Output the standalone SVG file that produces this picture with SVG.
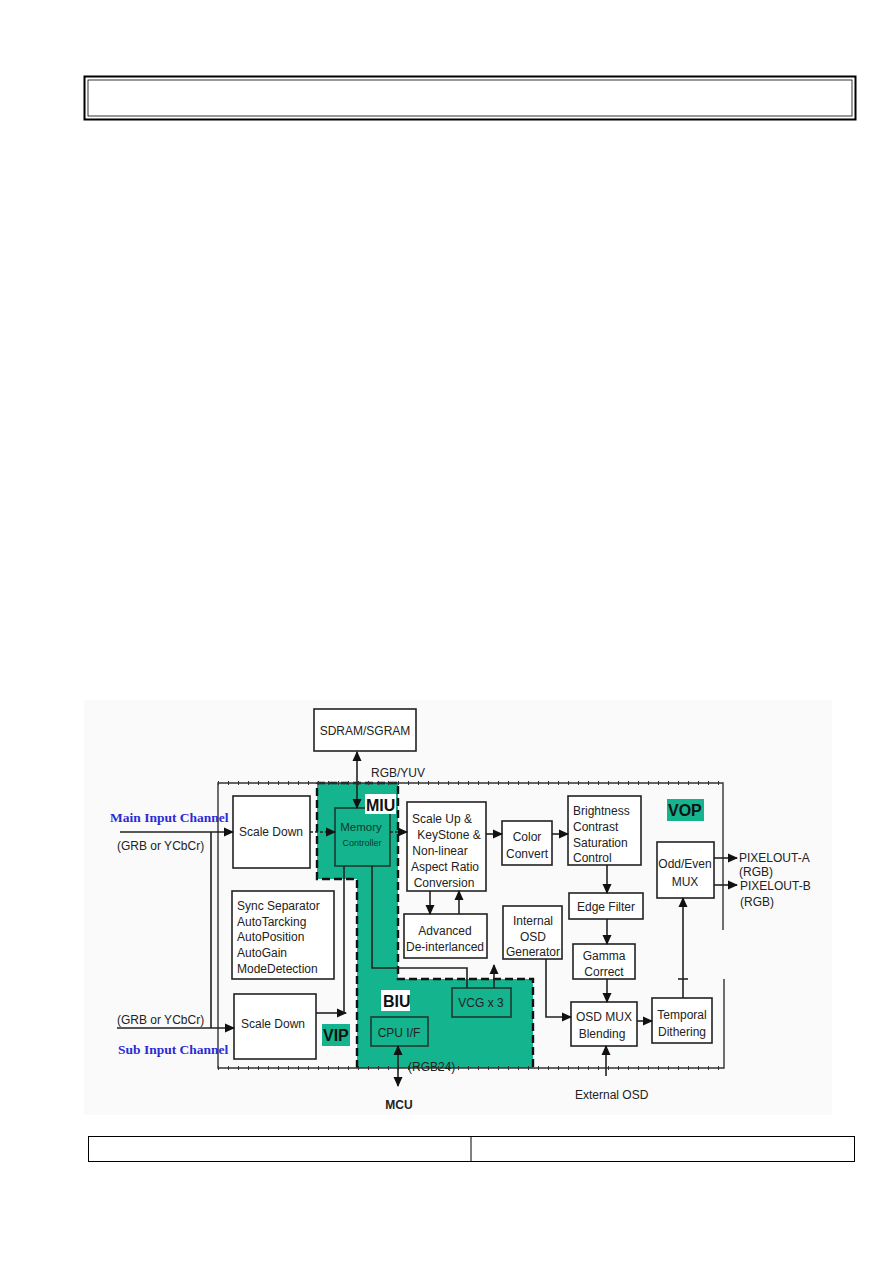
<svg xmlns="http://www.w3.org/2000/svg" width="893" height="1263" viewBox="0 0 893 1263">
<style>
.bx{fill:#fff;stroke:#222;stroke-width:1.6}
.t{font-family:"Liberation Sans",Arial,sans-serif;font-size:12px;fill:#222}
.c{text-anchor:middle}
.lbl{font-family:"Liberation Sans",Arial,sans-serif;font-size:16px;font-weight:bold;fill:#111}
.ch{font-family:"Liberation Serif","Times New Roman",serif;font-size:13.5px;font-weight:bold;fill:#2b2bd6}
.ln{fill:none;stroke:#222;stroke-width:1.6}
.dl{fill:none;stroke:#222;stroke-width:1.6;stroke-dasharray:3 2}
.grn{fill:#14b48e}
</style>
<defs>
<marker id="ah" markerWidth="10" markerHeight="10" refX="9" refY="5" orient="auto-start-reverse" markerUnits="userSpaceOnUse"><path d="M0,0.5 L10,5 L0,9.5 z" fill="#111"/></marker>
</defs>
<rect width="893" height="1263" fill="#fff"/>
<g id="frame-top">
<rect x="84.5" y="76.5" width="771" height="43" fill="none" stroke="#000" stroke-width="2"/>
<rect x="88" y="80" width="764" height="36" fill="none" stroke="#000" stroke-width="0.8"/>
</g>
<g id="frame-bottom">
<rect x="88.5" y="1136.5" width="766" height="25" fill="none" stroke="#000" stroke-width="1"/>
<line x1="471" y1="1136.5" x2="471" y2="1161.5" stroke="#000" stroke-width="1"/>
</g>
<rect x="84" y="700" width="748" height="415" fill="#fafafa"/>
<g id="regions">
<path class="grn" d="M317,783 H398 V979 H533 V1068 H357 V879 H317 Z"/>
<path d="M317,783 H398 V979 H533 V1068 M357,1068 V879 H317 V783" fill="none" stroke="#111" stroke-width="2.4" stroke-dasharray="8 4"/>
<path d="M723,930 V783 H218 V1068 H724 V979" fill="none" stroke="#333" stroke-width="1.4"/>
<path d="M218,783 H723 M218,1068 H724" fill="none" stroke="#333" stroke-width="4" stroke-dasharray="1 9"/>
</g>
<g id="sdram"><rect class="bx" x="314" y="709" width="102" height="42"/><text class="t c" x="365" y="735">SDRAM/SGRAM</text></g>
<g id="scale-down-main"><rect class="bx" x="233" y="796" width="77" height="72"/><text class="t c" x="271" y="836">Scale Down</text></g>
<g id="memory-controller"><rect x="335" y="808" width="55" height="58" fill="#14b48e" stroke="#1c3b30" stroke-width="1.6"/><text class="c" x="361" y="831" font-family="Liberation Sans,Arial,sans-serif" font-size="11.5" fill="#0b3b2a">Memory</text><text class="c" x="362" y="846" font-family="Liberation Sans,Arial,sans-serif" font-size="9" fill="#0b3b2a">Controller</text></g>
<g id="sync-separator"><rect class="bx" x="232" y="891" width="102" height="88"/>
<text class="t" x="237" y="910">Sync Separator</text><text class="t" x="237" y="926">AutoTarcking</text><text class="t" x="237" y="941">AutoPosition</text><text class="t" x="237" y="957">AutoGain</text><text class="t" x="237" y="973">ModeDetection</text></g>
<g id="scale-down-sub"><rect class="bx" x="234" y="994" width="82" height="65"/><text class="t c" x="273" y="1028">Scale Down</text></g>
<g id="scale-up"><rect class="bx" x="407" y="802" width="79" height="89"/>
<text class="t c" x="442" y="823">Scale Up &amp;</text><text class="t c" x="449" y="839">KeyStone &amp;</text><text class="t c" x="440" y="855">Non-linear</text><text class="t c" x="445" y="871">Aspect Ratio</text><text class="t c" x="444" y="887">Conversion</text></g>
<g id="advanced-deinterlaced"><rect class="bx" x="404" y="914" width="83" height="44"/><text class="t c" x="445" y="935">Advanced</text><text class="t c" x="445" y="951">De-interlanced</text></g>
<g id="color-convert"><rect class="bx" x="502" y="821" width="50" height="44"/><text class="t c" x="527" y="841">Color</text><text class="t c" x="527" y="858">Convert</text></g>
<g id="brightness"><rect class="bx" x="568" y="796" width="73" height="69"/>
<text class="t" x="573" y="815">Brightness</text><text class="t" x="573" y="831">Contrast</text><text class="t" x="573" y="847">Saturation</text><text class="t" x="573" y="862">Control</text></g>
<g id="edge-filter"><rect class="bx" x="569" y="893" width="74" height="26"/><text class="t c" x="606" y="911">Edge Filter</text></g>
<g id="gamma-correct"><rect class="bx" x="573" y="944" width="62" height="35"/><text class="t c" x="604" y="960">Gamma</text><text class="t c" x="604" y="976">Correct</text></g>
<g id="internal-osd"><rect class="bx" x="503" y="906" width="59" height="53"/><text class="t c" x="533" y="925">Internal</text><text class="t c" x="533" y="941">OSD</text><text class="t c" x="533" y="956">Generator</text></g>
<g id="osd-mux"><rect class="bx" x="571" y="1002" width="66" height="44"/><text class="t c" x="604" y="1021">OSD MUX</text><text class="t c" x="602" y="1038">Blending</text></g>
<g id="temporal"><rect class="bx" x="652" y="998" width="60" height="45"/><text class="t c" x="682" y="1019">Temporal</text><text class="t c" x="682" y="1036">Dithering</text></g>
<g id="odd-even"><rect class="bx" x="657" y="842" width="57" height="56"/><text class="t c" x="685" y="868">Odd/Even</text><text class="t c" x="685" y="886">MUX</text></g>
<g id="vcg"><rect x="452" y="988" width="59" height="29" fill="#14b48e" stroke="#1c3b30" stroke-width="1.6"/><text class="t c" x="481" y="1007">VCG x 3</text></g>
<g id="cpu-if"><rect x="371" y="1017" width="57" height="29" fill="#14b48e" stroke="#1c3b30" stroke-width="1.6"/><text class="t c" x="399" y="1037">CPU I/F</text></g>
<g id="labels">
<rect x="365" y="794" width="31" height="20" fill="#fff"/><text class="lbl" x="366" y="811">MIU</text>
<rect x="381" y="990" width="29" height="21" fill="#fff"/><text class="lbl" x="383" y="1007">BIU</text>
<rect x="322" y="1024" width="28" height="22" fill="#14b48e"/><text class="lbl" x="323" y="1041">VIP</text>
<rect x="667" y="799" width="37" height="22" fill="#14b48e"/><text class="lbl" x="668" y="816">VOP</text>
<text class="ch" x="110" y="822">Main Input Channel</text>
<text class="t" x="117" y="850">(GRB or YCbCr)</text>
<text class="t" x="117" y="1024">(GRB or YCbCr)</text>
<text class="ch" x="118" y="1054">Sub Input Channel</text>
<text class="t" x="371" y="777">RGB/YUV</text>
<text class="t" x="408" y="1071">(RGB24)</text>
<text class="t" x="399" y="1109" text-anchor="middle" font-weight="bold">MCU</text>
<text class="t" x="575" y="1099">External OSD</text>
<text class="t" x="739" y="862">PIXELOUT-A</text>
<text class="t" x="739" y="876">(RGB)</text>
<text class="t" x="740" y="890">PIXELOUT-B</text>
<text class="t" x="740" y="906">(RGB)</text>
</g>
<g id="connectors">
<line class="ln" x1="357" y1="752" x2="357" y2="808" marker-start="url(#ah)" marker-end="url(#ah)"/>
<line class="ln" x1="120" y1="832" x2="233" y2="832" marker-end="url(#ah)"/>
<line class="ln" x1="211" y1="832" x2="211" y2="1028"/>
<line class="ln" x1="117" y1="1028" x2="234" y2="1028" marker-end="url(#ah)"/>
<line class="dl" x1="310" y1="832" x2="335" y2="832" marker-end="url(#ah)"/>
<line class="ln" x1="316" y1="1013" x2="346" y2="1013" marker-end="url(#ah)"/>
<line class="ln" x1="344" y1="866" x2="344" y2="1013"/>
<polyline class="ln" points="372,866 372,968 467,968 467,988"/>
<line class="ln" x1="494" y1="988" x2="494" y2="965" marker-end="url(#ah)"/>
<line class="dl" x1="390" y1="832" x2="407" y2="832" marker-end="url(#ah)"/>
<line class="ln" x1="486" y1="834" x2="502" y2="834" marker-end="url(#ah)"/>
<line class="ln" x1="552" y1="834" x2="568" y2="834" marker-end="url(#ah)"/>
<line class="ln" x1="430" y1="891" x2="430" y2="914" marker-end="url(#ah)"/>
<line class="ln" x1="459" y1="914" x2="459" y2="891" marker-end="url(#ah)"/>
<line class="ln" x1="607" y1="865" x2="607" y2="893" marker-end="url(#ah)"/>
<line class="ln" x1="607" y1="919" x2="607" y2="944" marker-end="url(#ah)"/>
<line class="ln" x1="607" y1="979" x2="607" y2="1002" marker-end="url(#ah)"/>
<polyline class="ln" points="546,959 546,1017 571,1017" marker-end="url(#ah)"/>
<line class="ln" x1="606" y1="1076" x2="606" y2="1046" marker-end="url(#ah)"/>
<line class="ln" x1="637" y1="1021" x2="652" y2="1021" marker-end="url(#ah)"/>
<line class="ln" x1="683" y1="998" x2="683" y2="898" marker-end="url(#ah)"/>
<line class="ln" x1="678" y1="979" x2="688" y2="979" stroke-width="1"/>
<line class="ln" x1="714" y1="858" x2="737" y2="858" marker-end="url(#ah)"/>
<line class="ln" x1="714" y1="885" x2="737" y2="885" marker-end="url(#ah)"/>
<line class="ln" x1="398" y1="1046" x2="398" y2="1086" marker-start="url(#ah)" marker-end="url(#ah)"/>
</g>
</svg>
